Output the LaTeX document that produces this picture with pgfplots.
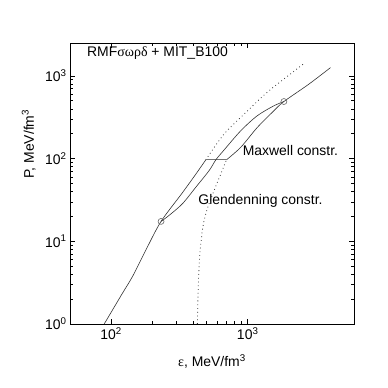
\documentclass[border=0pt]{standalone}
\usepackage{fontspec}
\setmainfont{Liberation Sans}
\newfontfamily\grk{Liberation Serif}
\usepackage{pgfplots}
\pgfplotsset{compat=1.18}
\definecolor{curve}{gray}{0.2}

\begin{document}
\begin{tikzpicture}
% canvas matching the reference framing
\path (-70bp,-64bp) rectangle (318bp,324bp);
\begin{axis}[
    at={(0,0)}, anchor=south west,
    scale only axis,
    width=284bp, height=281bp,
    xmode=log, ymode=log,
    xmin=50, xmax=6000,
    ymin=1, ymax=2500,
    xtick={100,1000},
    xticklabels={10\textsuperscript{2},10\textsuperscript{3}},
    ytick={1,10,100,1000},
    yticklabels={10\textsuperscript{0},10\textsuperscript{1},10\textsuperscript{2},10\textsuperscript{3}},
    tick label style={font=\fontsize{14}{16}\selectfont},
    major tick length=5pt, minor tick length=3pt,
    axis line style={line width=0.8pt},
    every tick/.style={black, line width=0.6pt},
    xlabel={{\grk ε}, MeV/fm\textsuperscript{3}},
    ylabel={P, MeV/fm\textsuperscript{3}},
    label style={font=\fontsize{14}{16}\selectfont},
    xlabel style={at={(axis description cs:0.5,-0.134)}, anchor=center},
    ylabel style={at={(axis description cs:-0.145,0.64)}, anchor=center},
    clip=true,
]
% hadronic (RMF) branch, solid
\addplot[curve, line width=0.6pt, smooth] coordinates {
    (89,1) (120,2.3) (144,3.8) (180,7.9) (232,17.4) (330,38) (420,66) (493,96.5)
};
% hadronic branch continued, dotted
\addplot[curve, line width=0.8pt, dash pattern=on 0.8pt off 3pt, smooth] coordinates {
    (493,96.5) (671,198) (1000,380) (1429,659) (2576,1406)
};
% quark (MIT bag) branch, dotted
\addplot[curve, line width=0.8pt, dash pattern=on 0.8pt off 3pt, smooth] coordinates {
    (428,1.0) (432,2.0) (438,4.0) (446,7.0) (456,10) (466,13.6) (480,18)
    (507,25) (535,32) (567,41) (600,52) (635,65) (665,79) (698,96.5)
};
% Maxwell plateau
\addplot[black!55, line width=1.1pt] coordinates {(493,96.5) (698,96.5)};
% quark branch after the plateau, solid
\addplot[curve, line width=0.6pt, smooth] coordinates {
    (698,96.5) (889,137) (1175,238) (1555,379) (1841,490) (2803,795) (4035,1259)
};
% Glendenning construction
\addplot[curve, line width=0.6pt, smooth] coordinates {
    (232,17.4) (266,20.6) (333,28.5) (417,45.1) (522,71.7) (584,96.5)
    (671,127) (889,217) (1175,330) (1555,435) (1841,490)
};
% transition points
\addplot[only marks, mark=o, mark size=3pt, mark options={fill=white, draw=black!60, line width=0.6pt}]
    coordinates {(232,17.4) (1841,490)};
\node[anchor=west, font=\fontsize{14}{16}\selectfont] at (axis description cs:0.048,0.964)
    {RMF{\grk σωρδ} + MIT\_B100};
\node[anchor=west, font=\fontsize{14}{16}\selectfont] at (axis description cs:0.596,0.619)
    {Maxwell constr.};
\node[anchor=west, font=\fontsize{14}{16}\selectfont] at (axis description cs:0.44,0.439)
    {Glendenning constr.};
\end{axis}
\end{tikzpicture}
\end{document}
